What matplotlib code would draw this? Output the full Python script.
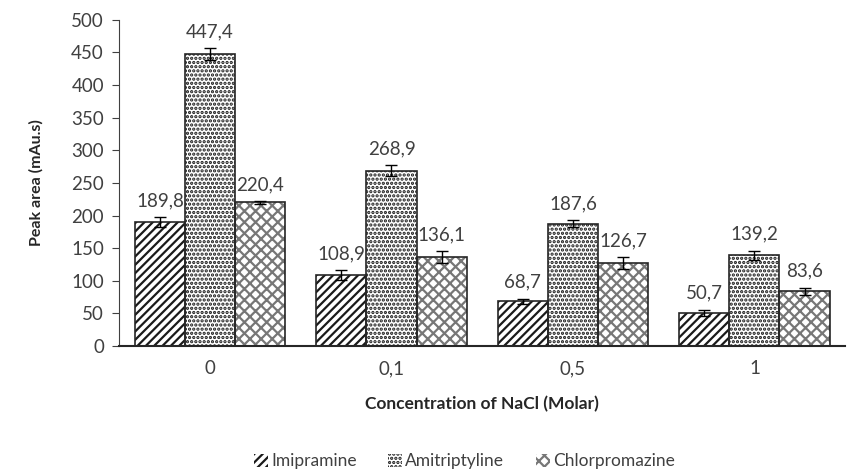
import numpy as np
import matplotlib
matplotlib.use("Agg")
import matplotlib.pyplot as plt

plt.rcParams['font.family'] = ['Lato', 'DejaVu Sans']
plt.rcParams['hatch.linewidth'] = 1.6

concentrations = ["0", "0,1", "0,5", "1"]
imipramine = [189.8, 108.9, 68.7, 50.7]
amitriptyline = [447.4, 268.9, 187.6, 139.2]
chlorpromazine = [220.4, 136.1, 126.7, 83.6]
imipramine_err = [8, 8, 4, 5]
amitriptyline_err = [9, 9, 5, 7]
chlorpromazine_err = [2, 9, 9, 6]

series = [
    ("Imipramine", imipramine, imipramine_err, "////", "#1a1a1a"),
    ("Amitriptyline", amitriptyline, amitriptyline_err, "....", "#1a1a1a"),
    ("Chlorpromazine", chlorpromazine, chlorpromazine_err, "xxx", "#777777"),
]

fig = plt.figure(figsize=(8.52, 4.73), dpi=100)
ax = fig.add_axes([0.140, 0.2685, 0.852, 0.6895])

x = np.arange(len(concentrations))
w = 0.276
for i, (name, vals, errs, hatch, hcol) in enumerate(series):
    pos = x + (i - 1) * w
    ax.bar(pos, vals, w, color="white", edgecolor=hcol, hatch=hatch,
           linewidth=0, label=name, zorder=2)
    ax.bar(pos, vals, w, color="none", edgecolor="#262626", linewidth=1.2, zorder=3)
    ax.errorbar(pos, vals, yerr=errs, fmt="none", ecolor="black",
                elinewidth=1, capsize=4, capthick=1, zorder=4)
    for p, v, e in zip(pos, vals, errs):
        ax.text(p, v + e + 12, f"{v:.1f}".replace(".", ","), ha="center",
                va="bottom", fontsize=13.5, color="#404040")

ax.set_xlim(-0.5, len(concentrations) - 0.5)
ax.set_ylim(0, 500)
ax.set_yticks(np.arange(0, 501, 50))
ax.set_xticks(x)
ax.set_xticklabels(concentrations)
ax.tick_params(axis="both", labelsize=13.5, colors="#404040", length=0)
ax.tick_params(axis="y", length=5, color="#404040", direction="out", pad=6)
for s in ["top", "right"]:
    ax.spines[s].set_visible(False)
ax.spines["left"].set_color("#404040")
ax.spines["bottom"].set_color("#262626")
ax.spines["bottom"].set_linewidth(1.5)
ax.tick_params(axis="x", pad=10)

ax.set_xlabel("Concentration of NaCl (Molar)", fontsize=12.5, fontweight="bold",
              color="#262626", labelpad=14)
ax.set_ylabel("Peak area (mAu.s)", fontsize=11.5, fontweight="bold",
              color="#262626", labelpad=20)

fig.legend(loc="lower center", bbox_to_anchor=(0.545, -0.025), ncol=3,
           frameon=False, fontsize=12.5, handlelength=0.8, handleheight=0.8,
           handletextpad=0.2, columnspacing=1.8, labelcolor="#404040")

fig.savefig("out.png", dpi=100)
